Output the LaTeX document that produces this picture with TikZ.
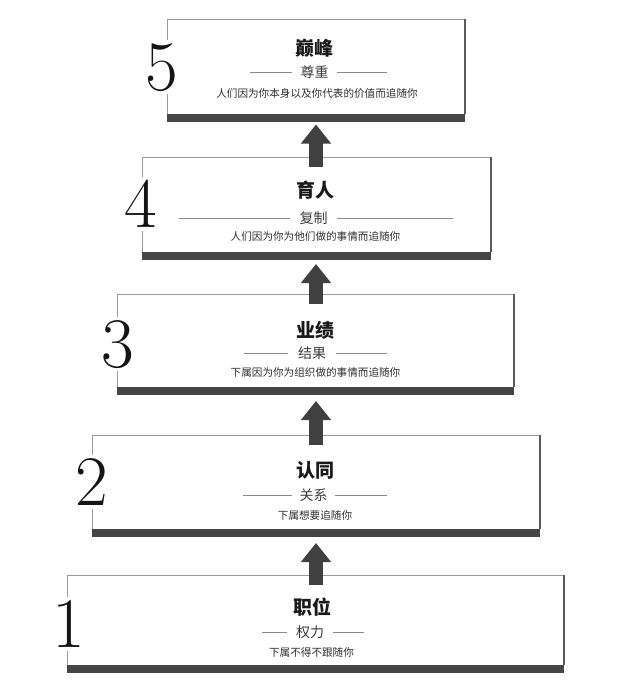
\documentclass[tikz,border=0pt]{standalone}
\usepackage{fontspec}
\newfontfamily\cjk{Noto Sans CJK SC}
\usetikzlibrary{arrows.meta,calc}
\definecolor{barc}{HTML}{454545}
\definecolor{arrowc}{HTML}{404040}
\definecolor{edgec}{HTML}{9A9A9A}
\definecolor{rightc}{HTML}{5A5A5A}
\definecolor{decoc}{HTML}{8A8A8A}
\definecolor{subc}{HTML}{3C3C3C}
\definecolor{descc}{HTML}{2E2E2E}
\begin{document}
\begin{tikzpicture}[x=1pt,y=-1pt,
  boxarea/.style={draw=none,inner sep=0pt,outer sep=0pt},
  edgeline/.style={draw=edgec,line width=1pt},
  rightline/.style={draw=rightc,line width=1.2pt},
  barfill/.style={fill=barc},
  numeral/.style={font=\fontsize{71}{71}\selectfont,text=black!92,fill=white,anchor=base,
    text height=46pt,text depth=0pt,inner ysep=4pt,inner xsep=1.5pt},
  titletext/.style={font=\cjk\bfseries\fontsize{19}{19}\selectfont,text=black!90,inner sep=0pt},
  subtext/.style={font=\cjk\fontsize{14}{14}\selectfont,text=subc,inner sep=0pt},
  desctext/.style={font=\cjk\fontsize{10.6}{11}\selectfont,text=descc,inner sep=0pt},
  deco/.style={draw=decoc,line width=0.9pt},
  uparrow/.style={draw=arrowc,line width=14pt,-{Triangle[width=29pt,length=19pt]}}]
\useasboundingbox (0,0) rectangle (640,696);
\coordinate (ax) at (316,0);

% boxes
\node[boxarea,minimum width=298pt,minimum height=103pt] (b5) at (316,70.5) {};
\node[boxarea,minimum width=349pt,minimum height=103pt] (b4) at (316.5,208.5) {};
\node[boxarea,minimum width=397pt,minimum height=101pt] (b3) at (315.5,344.5) {};
\node[boxarea,minimum width=448pt,minimum height=102pt] (b2) at (316,486) {};
\node[boxarea,minimum width=497pt,minimum height=98pt] (b1) at (315.5,624) {};

\foreach \b in {b1,b2,b3,b4,b5}{
  \draw[edgeline] ($(\b.south west)+(0,-8)$) -- (\b.north west) -- (\b.north east);
  \draw[rightline] (\b.north east) -- ($(\b.south east)+(0,-8)$);
  \fill[barfill] (\b.south west) rectangle ($(\b.south east)+(0,-8)$);
}

% arrows
\draw[uparrow] ($(b4.north -| ax)+(0,10)$) -- ($(b5.south -| ax)+(0,2.5)$);
\draw[uparrow] ($(b3.north -| ax)+(0,10)$) -- ($(b4.south -| ax)+(0,4)$);
\draw[uparrow] ($(b2.north -| ax)+(0,10)$) -- ($(b3.south -| ax)+(0,6)$);
\draw[uparrow] ($(b1.north -| ax)+(0,10)$) -- ($(b2.south -| ax)+(0,6)$);

% numerals
\node[numeral] (n5) at (161.5,90) {5};
\node[numeral] (n4) at (141,227) {4};
\node[numeral] (n3) at (118,367) {3};
\node[numeral] (n2) at (91.5,505) {2};
\node[numeral] (n1) at (68.5,647) {1};

% box 5
\node[titletext] (t5) at (314,48) {巅峰};
\node[subtext] (s5) at (314.5,72) {尊重};
\draw[deco] (250,72) -- (292,72);
\draw[deco] (337,72) -- (387,72);
\node[desctext] (d5) at (317,93) {人们因为你本身以及你代表的价值而追随你};

% box 4
\node[titletext] (t4) at (315,190) {育人};
\node[subtext] (s4) at (313.5,218) {复制};
\draw[deco] (179,218) -- (290,218);
\draw[deco] (337,218) -- (453,218);
\node[desctext] (d4) at (315.5,236) {人们因为你为他们做的事情而追随你};

% box 3
\node[titletext] (t3) at (315,330) {业绩};
\node[subtext] (s3) at (312,353) {结果};
\draw[deco] (244,353) -- (288,353);
\draw[deco] (336,353) -- (387,353);
\node[desctext] (d3) at (315.5,372) {下属因为你为组织做的事情而追随你};

% box 2
\node[titletext] (t2) at (315,470) {认同};
\node[subtext] (s2) at (313.5,495) {关系};
\draw[deco] (243,495) -- (292,495);
\draw[deco] (335,495) -- (387,495);
\node[desctext] (d2) at (315,515) {下属想要追随你};

% box 1
\node[titletext] (t1) at (312,607) {职位};
\node[subtext] (s1) at (310,632) {权力};
\draw[deco] (262,632) -- (287,632);
\draw[deco] (333,632) -- (364,632);
\node[desctext] (d1) at (311.5,652) {下属不得不跟随你};
\end{tikzpicture}
\end{document}
